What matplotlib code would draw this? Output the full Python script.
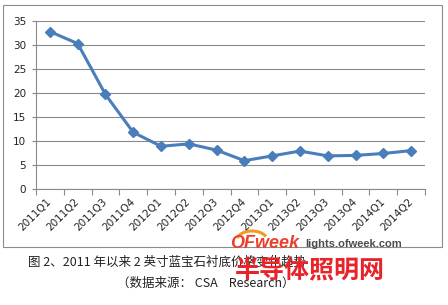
import numpy as np
import matplotlib
matplotlib.use("Agg")
import matplotlib.pyplot as plt
from matplotlib.patches import Rectangle, Arc

plt.rcParams['font.family'] = ['DejaVu Sans', 'Noto Sans CJK SC']

#====================================================
# data
quarters = ["2011Q1", "2011Q2", "2011Q3", "2011Q4",
            "2012Q1", "2012Q2", "2012Q3", "2012Q4",
            "2013Q1", "2013Q2", "2013Q3", "2013Q4",
            "2014Q1", "2014Q2"]
price = [32.8, 30.3, 19.7, 11.8, 8.9, 9.4, 8.1, 5.9, 6.9, 7.9, 6.9, 7.0, 7.4, 8.0]
yticks = [0, 5, 10, 15, 20, 25, 30, 35]

caption1 = "图 2、2011 年以来 2 英寸蓝宝石衬底价格变化趋势"
caption2 = "（数据来源： CSA    Research）"

#====================================================
W, H = 448, 305
fig = plt.figure(figsize=(W/100, H/100), dpi=100)
fig.patch.set_facecolor("white")

# outer chart border
fig.patches.append(Rectangle((3/W, (H-247)/H), 439/W, 242/H, transform=fig.transFigure,
                             fill=False, edgecolor="#8c8c8c", linewidth=0.8))

ax = fig.add_axes([36/W, (H-189)/H, 389/W, 168/H])
x = np.arange(len(quarters))
ax.plot(x, price, color="#4a7ebb", linewidth=2.2, marker="D", markersize=5.5,
        markerfacecolor="#4a7ebb", markeredgecolor="#4a7ebb", zorder=3)

ax.set_xlim(-0.5, len(quarters) - 0.5)
ax.set_ylim(0, 35)
ax.set_yticks(yticks)
ax.set_yticklabels([str(v) for v in yticks], fontsize=7.5, color="#222222")
ax.yaxis.grid(True, color="#8a8a8a", linewidth=0.8)
ax.set_axisbelow(True)

ax.set_xticks(x)
ax.set_xticklabels(quarters, fontsize=7.5, rotation=45, ha="right", va="center",
                   rotation_mode="anchor", color="#222222")
ax.set_xticks(np.arange(-0.5, len(quarters)), minor=True)
ax.tick_params(axis="x", which="major", length=0, pad=8)
ax.tick_params(axis="x", which="minor", length=4, color="#8a8a8a", width=0.8)
ax.tick_params(axis="y", length=3, color="#8a8a8a", width=0.8, pad=4)

for s in ["top", "right"]:
    ax.spines[s].set_visible(False)
ax.spines["left"].set_color("#8a8a8a")
ax.spines["bottom"].set_color("#8a8a8a")
ax.spines["left"].set_linewidth(0.8)
ax.spines["bottom"].set_linewidth(0.8)

# caption
fig.text(28/W, (H-262)/H, caption1, fontsize=9, va="center", ha="left",
         family=["Noto Sans CJK SC", "DejaVu Sans"], color="#222222")
fig.text(117/W, (H-283)/H, caption2, fontsize=9, va="center", ha="left",
         family=["Noto Sans CJK SC", "DejaVu Sans"], color="#222222")

# watermark
fig.patches.append(Arc((252/W, (H-240)/H), 30/W, 18/H, theta1=20, theta2=170,
                       transform=fig.transFigure, color="#f39a1e", linewidth=2.2))
fig.text(230/W, (H-244)/H, "OFweek", fontsize=13, fontweight="bold", style="italic",
         color="#e8412c", va="center", ha="left", family="Liberation Sans")
fig.text(305/W, (H-244)/H, "lights.ofweek.com", fontsize=8, fontweight="bold",
         color="#4d4d4d", va="center", ha="left", family="Liberation Sans")
fig.text(235/W, (H-271)/H, "半导体照明网", fontsize=18, fontweight="bold",
         color="#e8232a", va="center", ha="left", family="Noto Sans CJK SC")

plt.savefig("out.png", dpi=100)
